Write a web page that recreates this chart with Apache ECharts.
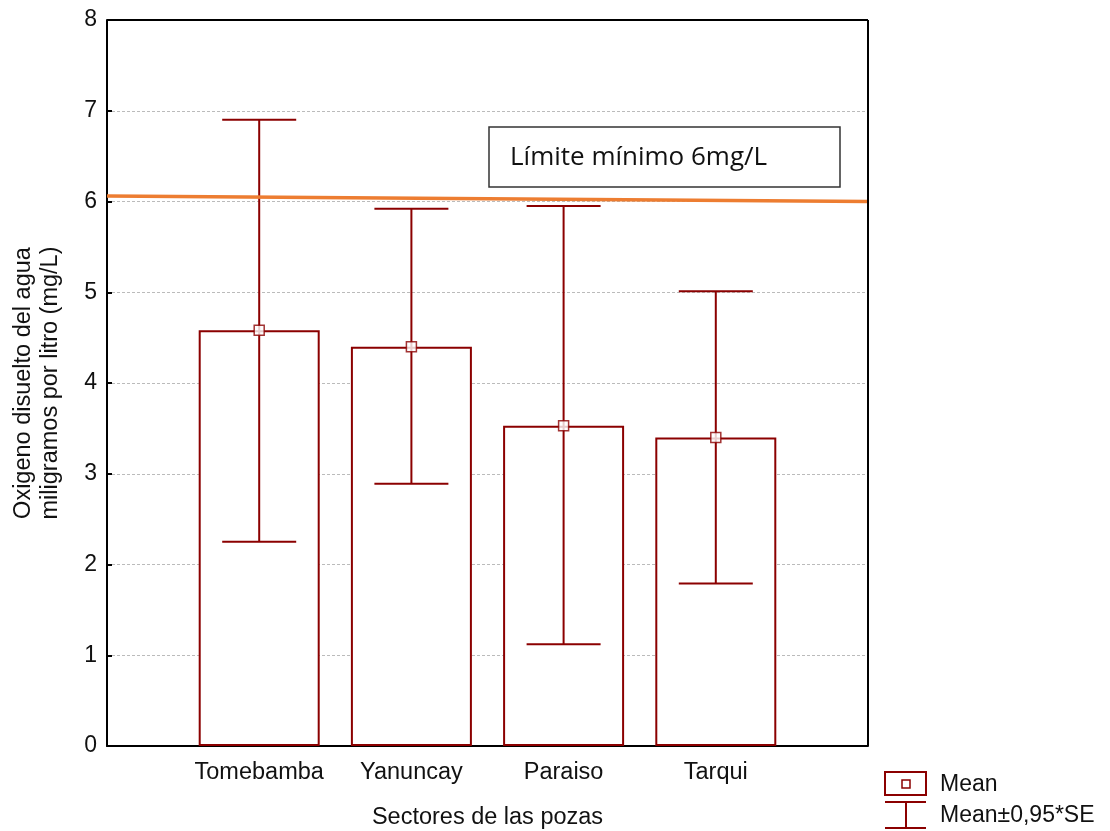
<!DOCTYPE html>
<html>
<head>
<meta charset="utf-8">
<script src="https://cdn.jsdelivr.net/npm/echarts@6/dist/echarts.min.js"></script>
<style>
    html, body { margin: 0; padding: 0; background: #fff; }
    #chart { width: 1110px; height: 831px; }
</style>
</head>
<body>
<div id="chart"></div>
<script>
    // datos
    var sectores = ['Tomebamba', 'Yanuncay', 'Paraiso', 'Tarqui'];
    var medias = [4.58, 4.40, 3.53, 3.40];
    var limSup = [6.90, 5.92, 5.95, 5.01];
    var limInf = [2.25, 2.89, 1.12, 1.79];
    var yTicks = [0, 1, 2, 3, 4, 5, 6, 7, 8];
    var limiteLinea = [6.06, 6.0];   // linea naranja (izq, der)

    var rojo = '#8b0000';
    var fuente = '"Liberation Sans", Arial, sans-serif';

    // eje con un hueco a cada lado
    var cats = [''].concat(sectores).concat(['']);
    var barData = [null].concat(medias).concat([null]);
    var errData = sectores.map(function (s, i) {
        return [i + 1, limInf[i], limSup[i]];
    });
    var meanData = sectores.map(function (s, i) {
        return [i + 1, medias[i]];
    });

    var myChart = echarts.init(document.getElementById('chart'));
    myChart.setOption({
        animation: false,
        grid: { left: 107, right: 242, top: 20, bottom: 85, outerBoundsMode: 'none', containLabel: false },
        xAxis: {
            type: 'category',
            data: cats,
            boundaryGap: false,
            axisLine: { lineStyle: { color: '#000', width: 2 } },
            axisTick: { show: false },
            axisLabel: { color: '#111', fontSize: 23.5, fontFamily: fuente, margin: 15, interval: 0 },
            name: 'Sectores de las pozas',
            nameLocation: 'middle',
            nameGap: 60,
            nameTextStyle: { color: '#111', fontSize: 23.5, fontFamily: fuente },
            splitLine: { show: false }
        },
        yAxis: {
            type: 'value',
            min: yTicks[0],
            max: yTicks[yTicks.length - 1],
            interval: 1,
            axisLine: { show: true, lineStyle: { color: '#000', width: 2 } },
            axisTick: { show: true, inside: true, length: 5, lineStyle: { color: '#000', width: 2 } },
            axisLabel: { color: '#111', fontSize: 23, fontFamily: fuente, margin: 10 },
            splitLine: { show: true, lineStyle: { color: '#bbb', type: [3, 2], width: 1 } },
            name: 'Oxigeno disuelto del agua\nmiligramos por litro (mg/L)',
            nameLocation: 'middle',
            nameGap: 43,
            nameTextStyle: { color: '#111', fontSize: 23.5, fontFamily: fuente, lineHeight: 27 }
        },
        series: [
            {
                type: 'bar',
                data: barData,
                barWidth: 121,
                itemStyle: { color: '#fff', borderColor: rojo, borderWidth: 2 },
                z: 2
            },
            {
                // linea del limite minimo
                type: 'line',
                data: [],
                markLine: {
                    silent: true,
                    symbol: 'none',
                    label: { show: false },
                    lineStyle: { color: '#ed7d31', width: 3.5, type: 'solid' },
                    data: [[{ coord: [0, limiteLinea[0]] }, { coord: [5, limiteLinea[1]] }]]
                },
                z: 3
            },
            {
                type: 'custom',
                data: errData,
                renderItem: function (params, api) {
                    var x = api.value(0);
                    var lo = api.coord([x, api.value(1)]);
                    var hi = api.coord([x, api.value(2)]);
                    var hw = 37;
                    var st = { stroke: rojo, lineWidth: 2 };
                    return {
                        type: 'group',
                        children: [
                            { type: 'line', shape: { x1: lo[0], y1: lo[1], x2: hi[0], y2: hi[1] }, style: st },
                            { type: 'line', shape: { x1: hi[0] - hw, y1: hi[1], x2: hi[0] + hw, y2: hi[1] }, style: st },
                            { type: 'line', shape: { x1: lo[0] - hw, y1: lo[1], x2: lo[0] + hw, y2: lo[1] }, style: st }
                        ]
                    };
                },
                z: 4
            },
            {
                type: 'scatter',
                data: meanData,
                symbol: 'rect',
                symbolSize: 10,
                itemStyle: { color: '#fff', borderColor: rojo, borderWidth: 1.5 },
                z: 5
            }
        ],
        graphic: [
            // marco superior y derecho
            { type: 'line', shape: { x1: 107, y1: 20, x2: 868, y2: 20 }, style: { stroke: '#000', lineWidth: 2 }, z: 10 },
            { type: 'line', shape: { x1: 868, y1: 20, x2: 868, y2: 746 }, style: { stroke: '#000', lineWidth: 2 }, z: 10 },
            // caja de texto
            { type: 'rect', shape: { x: 489, y: 127, width: 351, height: 60 }, style: { fill: '#fff', stroke: '#333', lineWidth: 1.5 }, z: 10 },
            { type: 'text', x: 510, y: 158, style: { text: 'Límite mínimo 6mg/L', font: '26px "Open Sans", "Noto Sans", sans-serif', fill: '#111', textVerticalAlign: 'middle' }, z: 11 },
            // leyenda
            { type: 'rect', shape: { x: 885, y: 772, width: 41, height: 23 }, style: { fill: '#fff', stroke: rojo, lineWidth: 2 }, z: 10 },
            { type: 'rect', shape: { x: 902, y: 780, width: 8, height: 8 }, style: { fill: '#fff', stroke: rojo, lineWidth: 1.5 }, z: 10 },
            { type: 'line', shape: { x1: 885, y1: 802, x2: 926, y2: 802 }, style: { stroke: rojo, lineWidth: 2 }, z: 10 },
            { type: 'line', shape: { x1: 885, y1: 828, x2: 926, y2: 828 }, style: { stroke: rojo, lineWidth: 2 }, z: 10 },
            { type: 'line', shape: { x1: 906, y1: 802, x2: 906, y2: 828 }, style: { stroke: rojo, lineWidth: 2 }, z: 10 },
            { type: 'text', x: 940, y: 785, style: { text: 'Mean', font: '23px ' + fuente, fill: '#111', textVerticalAlign: 'middle' }, z: 10 },
            { type: 'text', x: 940, y: 816, style: { text: 'Mean±0,95*SE', font: '23px ' + fuente, fill: '#111', textVerticalAlign: 'middle' }, z: 10 }
        ]
    });
</script>
</body>
</html>
